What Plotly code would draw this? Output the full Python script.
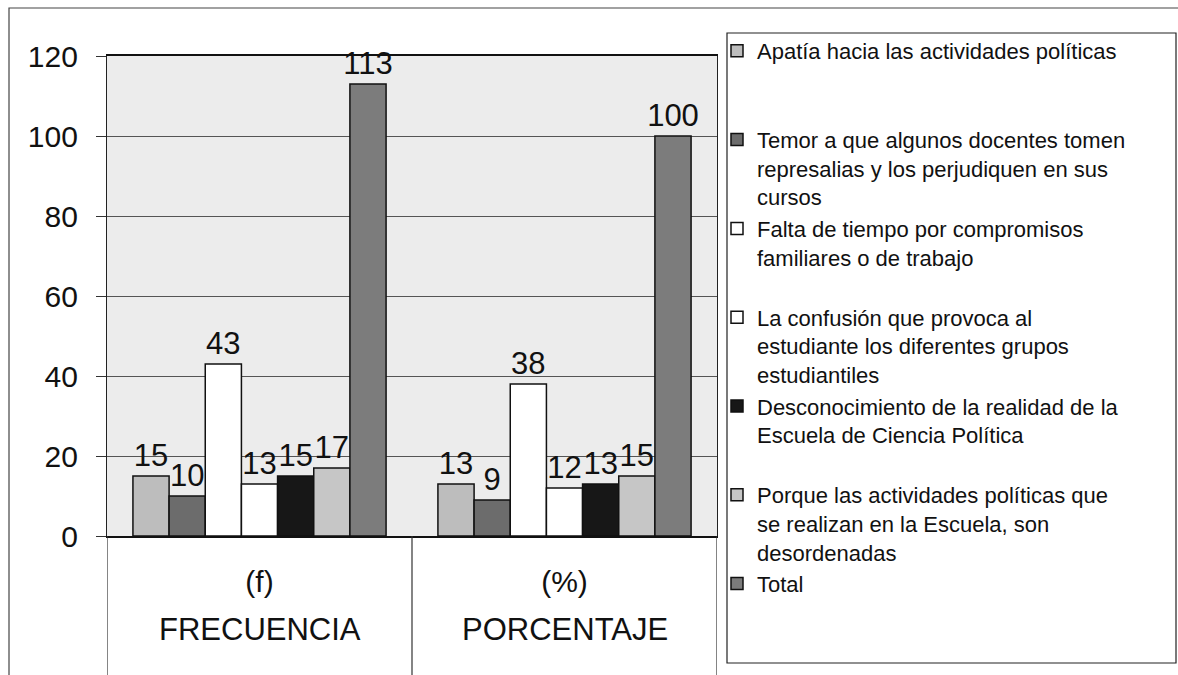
import plotly.graph_objects as go

# ---- data ----
categories = ["(f)", "(%)"]
groups = ["FRECUENCIA", "PORCENTAJE"]
series_names = [
    "Apatía hacia las actividades políticas",
    "Temor a que algunos docentes tomen<br>represalias y los perjudiquen en sus<br>cursos",
    "Falta de tiempo por compromisos<br>familiares o de trabajo",
    "La confusión que provoca al<br>estudiante los diferentes grupos<br>estudiantiles",
    "Desconocimiento de la realidad de la<br>Escuela de Ciencia Política",
    "Porque las actividades políticas que<br>se realizan en la Escuela, son<br>desordenadas",
    "Total",
]
apatia = [15, 13]
temor = [10, 9]
falta = [43, 38]
confusion = [13, 12]
desconocimiento = [15, 13]
desordenadas = [17, 15]
total = [113, 100]
series_values = [apatia, temor, falta, confusion, desconocimiento, desordenadas, total]
series_colors = ["#bdbdbd", "#6c6c6c", "#ffffff", "#ffffff", "#171717", "#c6c6c6", "#7c7c7c"]
y_ticks = [0, 20, 40, 60, 80, 100, 120]

FONT = "Liberation Sans, Arial, sans-serif"
W, H = 1178, 675
L, R, T, B = 107, 717, 56, 536  # plot area in px


def px_x(p):
    return (p - L) / (R - L)


def px_y(p):
    return (B - p) / (B - T)


def pad3(name):
    n = name.count("<br>") + 1
    return name + "<br>\u00a0" * (3 - n)


fig = go.Figure()
for name, vals, col in zip(series_names, series_values, series_colors):
    fig.add_trace(go.Bar(
        x=categories, y=vals, name=pad3(name),
        marker=dict(color=col, line=dict(color="#111111", width=1.5)),
        text=[str(v) for v in vals], textposition="outside",
        textfont=dict(family=FONT, size=31, color="#111111"),
        cliponaxis=False, constraintext="none",
    ))

shapes = [
    # outer frame
    dict(type="rect", xref="paper", yref="paper", x0=px_x(9), x1=px_x(1200),
         y0=px_y(700), y1=px_y(8), line=dict(color="#444444", width=1.2), layer="below"),
    # legend frame
    dict(type="rect", xref="paper", yref="paper", x0=px_x(727), x1=px_x(1176),
         y0=px_y(663), y1=px_y(33), line=dict(color="#222222", width=1.2)),
]
# table dividers below the axis
for xv in [-0.5, 0.5, 1.5]:
    shapes.append(dict(type="line", xref="x", yref="paper", x0=xv, x1=xv,
                       y0=px_y(B), y1=px_y(H + 5), line=dict(color="#333333", width=1.2)))

annotations = [
    dict(x=c, y=px_y(629), xref="x", yref="paper", text=g, showarrow=False,
         yanchor="middle", font=dict(family=FONT, size=31, color="#111111"))
    for c, g in zip(categories, groups)
]

fig.update_layout(
    width=W, height=H,
    template="none",
    margin=dict(l=L, r=W - R, t=T, b=H - B, pad=0, autoexpand=False),
    paper_bgcolor="white", plot_bgcolor="#ececec",
    barmode="group", bargap=0.17, bargroupgap=0,
    font=dict(family=FONT, color="#111111"),
    showlegend=True,
    legend=dict(x=px_x(717), y=px_y(30), xanchor="left", yanchor="top",
                font=dict(family=FONT, size=22, color="#111111"),
                bgcolor="rgba(0,0,0,0)", borderwidth=0, valign="top",
                traceorder="normal", tracegroupgap=0, maxheight=700),
    xaxis=dict(type="category", showgrid=False, showline=True, linecolor="#111111",
               linewidth=1.5, mirror=True, ticks="", ticklabelstandoff=18,
               automargin=False,
               tickfont=dict(family=FONT, size=30, color="#111111"), range=[-0.5, 1.5]),
    yaxis=dict(range=[0, 120], tickvals=y_ticks, ticktext=[str(v) for v in y_ticks],
               showgrid=True, gridcolor="#555555", gridwidth=1,
               showline=True, linecolor="#222222", linewidth=1.2, mirror=True,
               ticks="outside", ticklen=10, tickcolor="#333333",
               ticklabelstandoff=12, zeroline=False, automargin=False,
               tickfont=dict(family=FONT, size=30, color="#111111")),
    shapes=shapes, annotations=annotations,
)

fig.write_html("out.html", config={"displayModeBar": False},
               post_script="document.body.style.margin='0';document.body.style.overflow='hidden';")
